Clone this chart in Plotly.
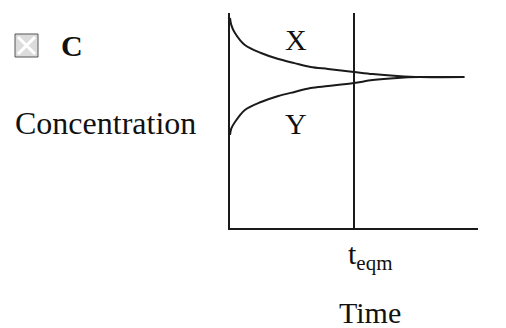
import plotly.graph_objects as go

# tempo (unidades arbitrarias), t_eqm = 1
tempo = [0.0, 0.01, 0.04, 0.12, 0.25, 0.39, 0.52, 0.65, 0.79, 1.0, 1.15, 1.35, 1.53, 1.89]
conc_x = [9.77, 9.45, 9.07, 8.51, 8.14, 7.86, 7.67, 7.49, 7.40, 7.26, 7.16, 7.07, 7.02, 7.02]
conc_y = [4.33, 4.62, 4.93, 5.49, 5.86, 6.14, 6.33, 6.51, 6.60, 6.74, 6.88, 6.98, 7.02, 7.02]
t_eqm = 1.0

W, H = 506, 328
OFF = 8  # margem padrao do <body> na pagina
# area do grafico na pagina: x 230..478, y 13..228
L, R, T, B = 230 - OFF, W - (478 - OFF), 13 - OFF, H - (228 - OFF)
FONTE = "Liberation Serif, Times New Roman, serif"


def px(x):
    return (x - OFF - L) / (W - L - R)


def py(y):
    return (H - B - (y - OFF)) / (H - T - B)


fig = go.Figure()
for serie in [conc_x, conc_y]:
    fig.add_trace(go.Scatter(x=tempo, y=serie, mode="lines",
                             line=dict(color="#1a1a1a", width=2, shape="spline", smoothing=0.9),
                             hoverinfo="skip", showlegend=False))

# linha vertical em t_eqm
fig.add_shape(type="line", xref="x", yref="paper", x0=t_eqm, x1=t_eqm, y0=0, y1=1,
              line=dict(color="#1a1a1a", width=2))

# icone de imagem quebrada
fig.add_shape(type="rect", xref="paper", yref="paper", x0=px(15), x1=px(38), y0=py(57), y1=py(34),
              fillcolor="#dcdcdc", line=dict(color="#555", width=1))
fig.add_shape(type="line", xref="paper", yref="paper", x0=px(18), x1=px(35), y0=py(54), y1=py(37),
              line=dict(color="white", width=3))
fig.add_shape(type="line", xref="paper", yref="paper", x0=px(18), x1=px(35), y0=py(37), y1=py(54),
              line=dict(color="white", width=3))

textos = [
    ("<b>C</b>", 59, 45, 30, "left"),
    ("Concentration", 13, 123, 32, "left"),
    ("X", 296, 40, 30, "center"),
    ("Y", 296, 123, 30, "center"),
    ("t<sub>eqm</sub>", 370, 256, 30, "center"),
    ("Time", 370, 312, 30, "center"),
]
for txt, x, y, tam, anc in textos:
    fig.add_annotation(text=txt, xref="paper", yref="paper", x=px(x), y=py(y),
                       xanchor=anc, yanchor="middle", showarrow=False,
                       font=dict(family=FONTE, size=tam, color="#111"))

fig.update_xaxes(range=[0, 2.0], showline=True, linecolor="#1a1a1a", linewidth=2,
                 showgrid=False, zeroline=False, showticklabels=False, ticks="")
fig.update_yaxes(range=[0, 10], showline=True, linecolor="#1a1a1a", linewidth=2,
                 showgrid=False, zeroline=False, showticklabels=False, ticks="")
fig.update_layout(width=W, height=H, margin=dict(l=L, r=R, t=T, b=B),
                  paper_bgcolor="white", plot_bgcolor="white")

fig.write_html("out.html")
